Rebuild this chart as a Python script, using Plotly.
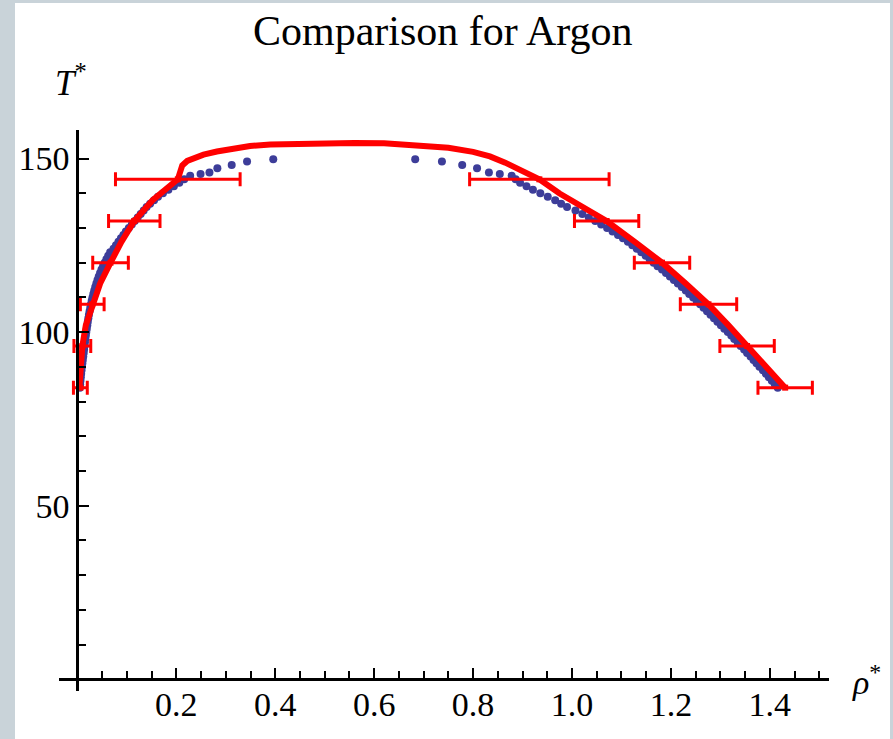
import plotly.graph_objects as go

# ---------------- data ----------------
# Blue points: vapour (left) branch
vap_T = [84, 85, 86, 87, 88, 89, 90, 91, 92, 93, 94, 95, 96, 97, 98, 99, 100,
         101, 102, 103, 104, 105, 106, 107, 108, 109, 110, 111, 112, 113, 114,
         115, 116, 117, 118, 119, 120, 121, 122, 123, 124, 125, 126, 127, 128,
         129, 130, 131, 132, 133, 134, 135, 136, 137, 138, 139, 140, 141, 142,
         143, 144, 145.0, 145.5, 146.0, 147.2, 148.1, 149.1, 149.8]
vap_rho = [0.0050, 0.0056, 0.0062, 0.0069, 0.0076, 0.0084, 0.0092, 0.0100,
           0.0109, 0.0118, 0.0127, 0.0135, 0.0143, 0.0152, 0.0161, 0.0170,
           0.0180, 0.0190, 0.0200, 0.0210, 0.0221, 0.0233, 0.0246, 0.0260,
           0.0274, 0.0289, 0.0305, 0.0322, 0.0341, 0.0361, 0.0383, 0.0406,
           0.0431, 0.0458, 0.0487, 0.0518, 0.0551, 0.0586, 0.0623, 0.0662,
           0.0730, 0.0780, 0.0830, 0.0880, 0.0930, 0.0980, 0.1040, 0.1100,
           0.1160, 0.1220, 0.1280, 0.1340, 0.1400, 0.1470, 0.1550, 0.1630,
           0.1730, 0.1840, 0.1950, 0.2060, 0.2160, 0.228, 0.249, 0.267,
           0.283, 0.312, 0.343, 0.396]

# Blue points: liquid (right) branch
liq_T = [84, 85, 86, 87, 88, 89, 90, 91, 92, 93, 94, 95, 96, 97, 98, 99, 100,
         101, 102, 103, 104, 105, 106, 107, 108, 109, 110, 111, 112, 113, 114,
         115, 116, 117, 118, 119, 120, 121, 122, 123, 124, 125, 126, 127, 128,
         129, 130, 131, 132, 133, 134, 135, 136, 137, 138, 139, 140, 141, 142,
         143, 144, 145.0, 145.5, 146.0, 147.2, 148.1, 149.1, 149.8]
liq_rho = [1.416, 1.410, 1.404, 1.398, 1.392, 1.386, 1.379, 1.373, 1.367,
           1.361, 1.354, 1.348, 1.341, 1.335, 1.328, 1.322, 1.315, 1.308,
           1.301, 1.294, 1.287, 1.280, 1.273, 1.266, 1.259, 1.252, 1.245,
           1.237, 1.230, 1.222, 1.214, 1.206, 1.198, 1.190, 1.182, 1.173,
           1.165, 1.157, 1.149, 1.140, 1.131, 1.122, 1.113, 1.103, 1.093,
           1.082, 1.071, 1.059, 1.047, 1.034, 1.021, 1.007, 0.990, 0.978,
           0.966, 0.951, 0.936, 0.921, 0.908, 0.895, 0.886, 0.878, 0.854,
           0.832, 0.808, 0.778, 0.737, 0.683]

# Red curve
fit_rho = [0.004, 0.007, 0.010, 0.017, 0.030, 0.046, 0.067, 0.089, 0.115,
           0.152, 0.203, 0.207, 0.212, 0.222, 0.235, 0.255, 0.282, 0.315,
           0.349, 0.390, 0.430, 0.500, 0.560, 0.620, 0.700, 0.750, 0.800,
           0.834, 0.865, 0.895, 0.934, 0.975, 1.016, 1.070, 1.127, 1.182,
           1.230, 1.276, 1.316, 1.354, 1.393, 1.431]
fit_T = [84, 90, 96, 102, 108, 114, 120, 126, 132, 138, 144, 146, 148,
         149.3, 150.1, 151.1, 152.0, 152.9, 153.6, 154.0, 154.2, 154.4,
         154.5, 154.4, 153.8, 153.1, 151.9, 150.6, 148.8, 146.7, 144,
         139.9, 136.3, 132, 126, 120, 114, 108, 102, 96, 90, 84]

# Red error bars (horizontal)
err_T = [84, 96, 108, 120, 132, 144, 144, 132, 120, 108, 96, 84]
err_rho = [0.006, 0.010, 0.030, 0.067, 0.115, 0.203,
           0.934, 1.070, 1.182, 1.276, 1.354, 1.431]
err_w = [0.014, 0.017, 0.024, 0.036, 0.052, 0.126,
         0.141, 0.065, 0.056, 0.057, 0.055, 0.055]

x_ticks = [0.2, 0.4, 0.6, 0.8, 1.0, 1.2, 1.4]
x_ticklabels = ["0.2", "0.4", "0.6", "0.8", "1.0", "1.2", "1.4"]
y_ticks = [50, 100, 150]
y_ticklabels = ["50", "100", "150"]

# ---------------- figure ----------------
SERIF = "Liberation Serif, Times New Roman, serif"
BLUE = "#3d3d99"
RED = "#ff0000"
GREY = "#c9d3d9"

fig = go.Figure()

fig.add_trace(go.Scatter(
    x=vap_rho + liq_rho, y=vap_T + liq_T, mode="markers",
    marker=dict(color=BLUE, size=8, line=dict(width=0)),
    hoverinfo="skip", showlegend=False))

fig.add_trace(go.Scatter(
    x=fit_rho, y=fit_T, mode="lines",
    line=dict(color=RED, width=6), hoverinfo="skip", showlegend=False))

fig.add_trace(go.Scatter(
    x=err_rho, y=err_T, mode="markers",
    marker=dict(color=RED, size=6, symbol="square", line=dict(width=0)),
    error_x=dict(type="data", array=err_w, visible=True, color=RED,
                 thickness=3, width=7),
    hoverinfo="skip", showlegend=False))

W, H = 893, 739
L, R, T, B = 59, 64, 130, 48
pw, ph = W - L - R, H - T - B
x0 = -0.0372
x1 = x0 + pw / 494.6
y0 = -3.37
y1 = y0 + ph / 3.472

fig.update_layout(
    width=W, height=H,
    margin=dict(l=L, r=R, t=T, b=B, pad=0, autoexpand=False),
    paper_bgcolor="white", plot_bgcolor="white",
    showlegend=False,
    xaxis=dict(range=[x0, x1], showgrid=False, zeroline=False, automargin=False,
               showline=True, linecolor="black", linewidth=3,
               anchor="free", position=(0 - y0) / (y1 - y0),
               tickmode="array", tickvals=x_ticks, ticktext=x_ticklabels,
               ticks="inside", ticklen=10, tickwidth=2, tickcolor="black",
               minor=dict(dtick=0.05, tick0=0, ticks="inside", ticklen=7,
                          tickwidth=2, tickcolor="black"),
               tickfont=dict(family=SERIF, size=34, color="black"),
               ticklabelstandoff=-6),
    yaxis=dict(range=[y0, y1], showgrid=False, zeroline=False, automargin=False,
               showline=True, linecolor="black", linewidth=3,
               anchor="free", position=(0 - x0) / (x1 - x0),
               tickmode="array", tickvals=y_ticks, ticktext=y_ticklabels,
               ticks="inside", ticklen=10, tickwidth=2, tickcolor="black",
               minor=dict(dtick=10, tick0=0, ticks="inside", ticklen=7,
                          tickwidth=2, tickcolor="black"),
               tickfont=dict(family=SERIF, size=34, color="black"),
               ticklabelstandoff=0),
)

def px_x(p):
    return (p - L) / pw

def px_y(p):
    return (H - B - p) / ph

# grey frame strips (left, top, right)
for (a, b, c, d) in [(0, 15, 0, 739), (0, 893, 0, 3), (890, 893, 0, 739)]:
    fig.add_shape(type="rect", xref="paper", yref="paper",
                  x0=px_x(a), x1=px_x(b), y0=px_y(d), y1=px_y(c),
                  fillcolor=GREY, line=dict(width=0), layer="below")

fig.add_annotation(text="Comparison for Argon", xref="paper", yref="paper",
                   x=px_x(442.5), y=px_y(31), xanchor="center", yanchor="middle",
                   showarrow=False, font=dict(family=SERIF, size=42, color="black"))
fig.add_annotation(text="<i>T</i><sup>*</sup>", xref="paper", yref="paper",
                   x=px_x(71), y=px_y(80), xanchor="center", yanchor="middle",
                   showarrow=False, font=dict(family=SERIF, size=35, color="black"))
fig.add_annotation(text="<i>ρ</i><sup>*</sup>", xref="paper", yref="paper",
                   x=px_x(867), y=px_y(680), xanchor="center", yanchor="middle",
                   showarrow=False, font=dict(family=SERIF, size=34, color="black"))

fig.write_html("out.html")
